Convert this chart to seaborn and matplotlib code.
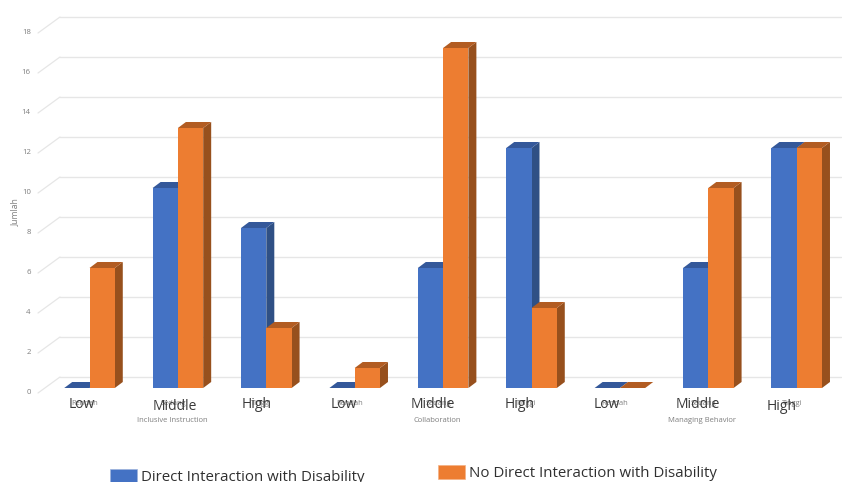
import matplotlib
matplotlib.use("Agg")
import matplotlib.pyplot as plt
from matplotlib.lines import Line2D
from matplotlib.patches import Polygon, Patch
from matplotlib.transforms import Affine2D, IdentityTransform
import pandas as pd
import seaborn as sns

levels_id = ["Rendah", "Sedang", "Tinggi"]
levels_en = ["Low", "Middle", "High"]
aspects = ["Inclusive Instruction", "Collaboration", "Managing Behavior"]
direct_values = [0, 10, 8, 0, 6, 12, 0, 6, 12]
indirect_values = [6, 13, 3, 1, 17, 4, 0, 10, 12]
series_names = ["Direct Interaction with Disability", "No Direct Interaction with Disability"]
y_values = [0, 2, 4, 6, 8, 10, 12, 14, 16, 18]

FRONT = {series_names[0]: "#4472C4", series_names[1]: "#ED7D31"}
SIDE = {series_names[0]: "#2F5085", series_names[1]: "#97501D"}
TOP = {series_names[0]: "#34589A", series_names[1]: "#B25C22"}
GRID = "#E6E6E6"
MUTED = "#7F7F7F"
INK = "#3A3A3A"

sns.set_theme(style="white")
plt.rcParams["font.family"] = ["Open Sans", "DejaVu Sans"]

W, H = 842, 482
fig = plt.figure(figsize=(W / 100, H / 100), dpi=100)
ax = fig.add_axes([45.3 / W, 94 / H, 795.6 / W, 360 / H])

slots = [f"{a}|{l}" for a in aspects for l in levels_id]
frame = pd.DataFrame({
    "slot": slots * 2,
    "series": [series_names[0]] * 9 + [series_names[1]] * 9,
    "count": direct_values + indirect_values,
})
sns.barplot(data=frame, x="slot", y="count", hue="series", palette=FRONT,
            width=0.572, gap=0, saturation=1, legend=False, ax=ax)
ax.set_xlim(-0.5, 8.5)
ax.set_ylim(0, 18)
sns.despine(ax=ax, left=True, bottom=True)
fig.canvas.draw()

# Extruded faces for the pseudo-3D look, offset in pixels from each bar
DX, DY = 8, 6
for order, (container, name) in enumerate(zip(ax.containers, series_names)):
    for bar in container:
        (x0, y0), (x1, y1) = ax.transData.transform(
            [(bar.get_x(), 0), (bar.get_x() + bar.get_width(), bar.get_height())])
        z = 3 + order
        bar.set_zorder(z + 0.5)
        bar.set_linewidth(0)
        ax.add_patch(Polygon([(x1, y0), (x1 + DX, y0 + DY), (x1 + DX, y1 + DY), (x1, y1)],
                             closed=True, fc=SIDE[name], lw=0, zorder=z,
                             transform=IdentityTransform(), clip_on=False))
        ax.add_patch(Polygon([(x0, y1), (x0 + DX, y1 + DY), (x1 + DX, y1 + DY), (x1, y1)],
                             closed=True, fc=TOP[name], lw=0, zorder=z,
                             transform=IdentityTransform(), clip_on=False))

# Back wall gridlines and their slanted returns along the side wall
wall = ax.get_yaxis_transform() + Affine2D().translate(0, 11)
side = ax.get_yaxis_transform()
wall_start = (60 - 45.3) / 795.6
for v in y_values:
    ax.add_line(Line2D([wall_start, 1], [v, v], transform=wall, color=GRID, lw=1.0,
                       zorder=1, clip_on=False))
    py = side.transform((0, v))[1]
    ax.add_line(Line2D([38, 60], [py - 5, py + 11], transform=IdentityTransform(),
                       color=GRID, lw=0.9, zorder=1, clip_on=False))

# Value axis
ax.set_yticks(y_values)
ax.set_yticklabels([str(v) for v in y_values])
ax.tick_params(axis="y", length=0, pad=10.5, labelsize=5.6, labelcolor=MUTED)
for label in ax.get_yticklabels():
    label.set_transform(label.get_transform() + Affine2D().translate(0, -3.5))
ax.set_ylabel("")
fig.text(15.5 / W, 1 - 212 / H, "Jumlah", rotation=90, fontsize=6.2, color=MUTED,
         ha="center", va="center")

# Category axis: original level names, aspect names and English overlays
ax.set_xticks(range(9))
ax.set_xticklabels(levels_id * 3)
ax.set_xlabel("")
ax.tick_params(axis="x", length=0, pad=8.5, labelsize=5.4, labelcolor=MUTED)
for label in ax.get_xticklabels():
    label.set_transform(label.get_transform() + Affine2D().translate(-5, 0))

for name, cx in zip(aspects, [172, 437, 702]):
    fig.text(cx / W, 1 - 420 / H, name, fontsize=5.5, color=MUTED, ha="center", va="center")

overlay_x = [82, 175, 257, 344, 433, 520, 607, 698, 782]
overlay_y = [405, 407, 405, 404, 405, 405, 404, 404, 407]
for text, px, py in zip(levels_en * 3, overlay_x, overlay_y):
    fig.text(px / W, 1 - py / H, text, fontsize=10, color=INK, ha="center", va="center")

# Two separately placed legend entries, running off the bottom edge
for name, anchor in zip(series_names, [(110, 477), (438, 473)]):
    fig.legend(handles=[Patch(fc=FRONT[name], ec="#9DB3DC" if name == series_names[0] else "#F4B183", lw=0.5, label=name)],
               loc="center left", frameon=False, fontsize=10.85,
               labelcolor="#303030", handlelength=1.8, handleheight=1.05,
               handletextpad=0.27, borderpad=0, borderaxespad=0,
               bbox_to_anchor=(anchor[0] / W, 1 - anchor[1] / H))

fig.savefig("out.png", dpi=100, facecolor="white")
